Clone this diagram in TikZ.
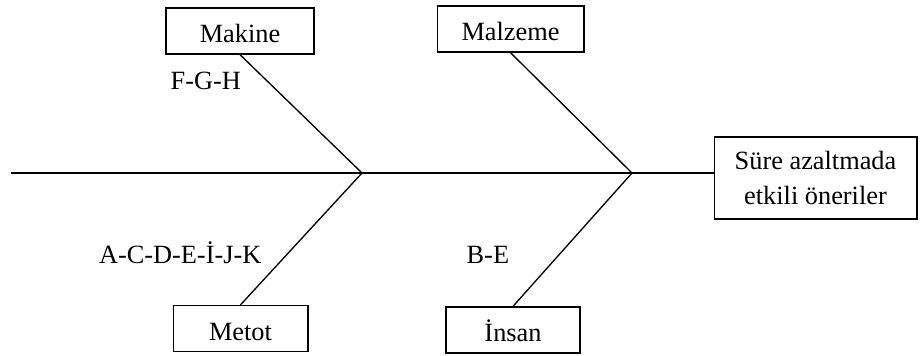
\documentclass[tikz,border=0pt]{standalone}
\usepackage{fontspec}
\setmainfont{Liberation Serif}

\begin{document}
\begin{tikzpicture}[x=0.75pt,y=-0.75pt,line width=1pt,
		every node/.style={font=\fontsize{19.75}{26.5}\selectfont},
		kutu/.style={draw,inner sep=0pt,text height=26pt,text depth=8.5pt},
		etiket/.style={inner sep=0pt}]
		\useasboundingbox (0,0) rectangle (920,356);
		% kutular
		\node[kutu,minimum width=111pt] (makine) at (240,31) {Makine};
		\node[kutu,minimum width=110pt] (malzeme) at (510.5,29) {Malzeme};
		\node[kutu,minimum width=101pt] (metot) at (240.5,328.5) {Metot};
		\node[kutu,minimum width=100.5pt] (insan) at (513,330) {İnsan};
		\node[draw,align=center,minimum width=152pt,minimum height=61.5pt] (sonuc) at (815.5,178) {Süre azaltmada\\etkili öneriler};
		% omurga
		\coordinate (bas) at (11,173);
		\coordinate (j1) at (362,173);
		\coordinate (j2) at (632,173);
		\draw (bas) -- (j1) -- (j2) -- (j2 -| sonuc.west);
		\draw (makine.south) -- (j1) -- (metot.north);
		\draw (malzeme.south) -- (j2) -- (insan.north);
		% nedenler
		\node[etiket,anchor=base west] (fgh) at (170,90) {F-G-H};
		\node[etiket,anchor=base east] (acde) at (262,263) {A-C-D-E-İ-J-K};
		\node[etiket,anchor=base west] (be) at (466,263) {B-E};
\end{tikzpicture}
\end{document}
